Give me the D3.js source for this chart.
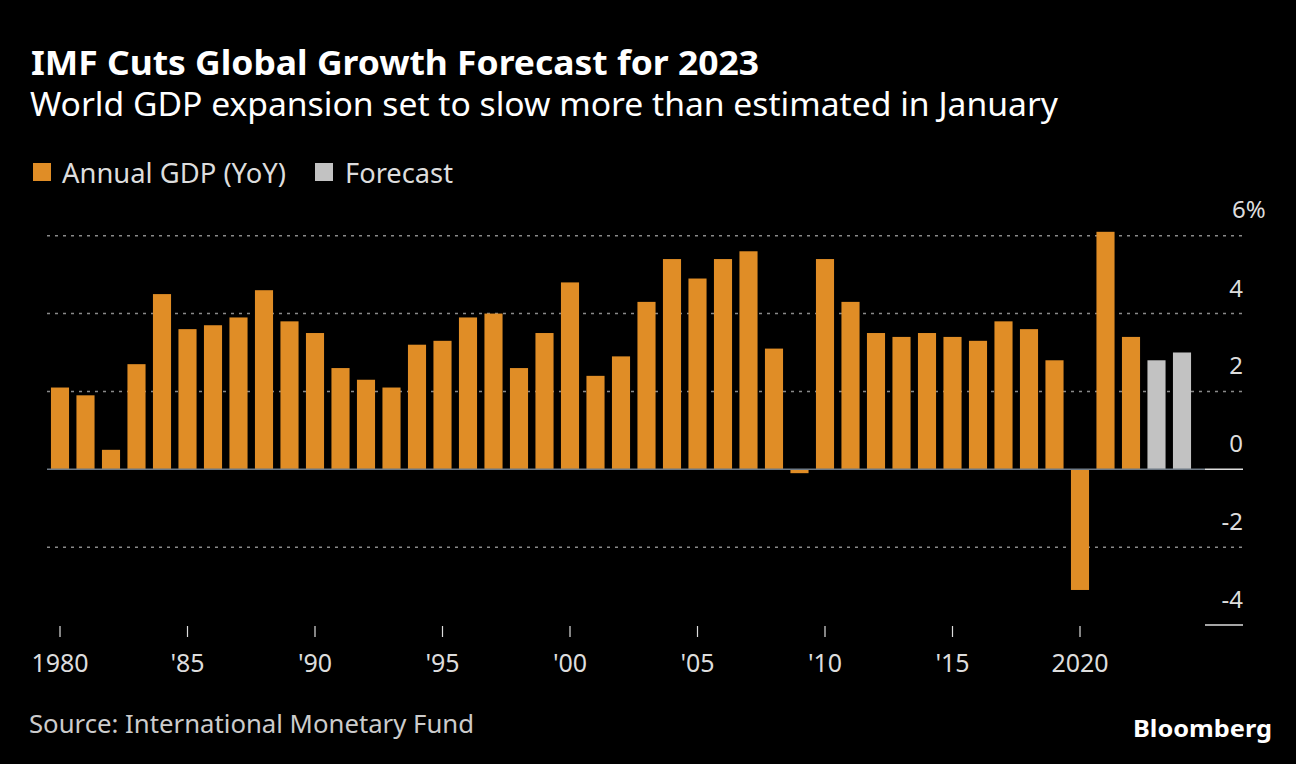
<!DOCTYPE html>
<html><head><meta charset="utf-8">
<script src="https://cdn.jsdelivr.net/npm/d3@7"></script>
<style>
html,body{margin:0;padding:0;background:#000;}
svg{display:block;font-family:"Noto Sans","Open Sans",sans-serif;}
</style></head>
<body>
<svg id="chart" width="1296" height="764"></svg>
<script>
const years = d3.range(1980, 2025);
const actualValues = [2.1,1.9,0.5,2.7,4.5,3.6,3.7,3.9,4.6,3.8,
  3.5,2.6,2.3,2.1,3.2,3.3,3.9,4.0,2.6,3.5,
  4.8,2.4,2.9,4.3,5.4,4.9,5.4,5.6,3.1,-0.1,
  5.4,4.3,3.5,3.4,3.5,3.4,3.3,3.8,3.6,2.8,
  -3.1,6.1,3.4];
const forecastValues = [2.8,3.0];
const yTicks = [-4,-2,0,2,4,6];
const xTickYears = [1980,1985,1990,1995,2000,2005,2010,2015,2020];
const xTickLabels = ["1980","'85","'90","'95","'00","'05","'10","'15","2020"];
const seriesNames = ["Annual GDP (YoY)","Forecast"];
const colors = {actual:"#E08D26", forecast:"#C2C2C2"};

const data = years.map((y,i)=>({year:y, value: i<actualValues.length ? actualValues[i] : forecastValues[i-actualValues.length], forecast: i>=actualValues.length}));

const svg = d3.select("#chart");
svg.append("rect").attr("width",1296).attr("height",764).attr("fill","#000");

const x = d3.scaleBand().domain(years).range([47.25,1194.75]).paddingInner(0.29).paddingOuter(0.145);
const y = d3.scaleLinear().domain([-4,6]).range([625,235.7]);

function fitText(sel, len){ sel.attr("textLength",len).attr("lengthAdjust","spacingAndGlyphs"); return sel; }

// title
fitText(svg.append("text").attr("x",31).attr("y",75).attr("fill","#fff").attr("font-weight",700).attr("font-size",34).text("IMF Cuts Global Growth Forecast for 2023"),728);
fitText(svg.append("text").attr("x",30).attr("y",116).attr("fill","#fff").attr("font-size",32).text("World GDP expansion set to slow more than estimated in January"),1028);

// legend
const lg = svg.append("g");
lg.append("rect").attr("x",33).attr("y",163).attr("width",18).attr("height",18).attr("fill",colors.actual);
fitText(lg.append("text").attr("x",62).attr("y",183).attr("fill","#ddd").attr("font-size",28).text(seriesNames[0]),224);
lg.append("rect").attr("x",315).attr("y",163).attr("width",18).attr("height",18).attr("fill",colors.forecast);
fitText(lg.append("text").attr("x",345).attr("y",183).attr("fill","#ddd").attr("font-size",28).text(seriesNames[1]),108);

// gridlines
const grid = svg.append("g");
yTicks.filter(t=>t!==0 && t!==-4).forEach(t=>{
  grid.append("line").attr("x1",47).attr("x2",1243).attr("y1",y(t)).attr("y2",y(t))
    .attr("stroke","#8a8a8a").attr("stroke-width",1.5).attr("stroke-dasharray","3,5");
});

// bars
svg.append("g").selectAll("rect").data(data).join("rect")
  .attr("x",d=>x(d.year)).attr("width",x.bandwidth())
  .attr("y",d=>y(Math.max(0,d.value))).attr("height",d=>Math.abs(y(d.value)-y(0)))
  .attr("fill",d=>d.forecast?colors.forecast:colors.actual);

// zero line
svg.append("line").attr("x1",47).attr("x2",1205).attr("y1",y(0)).attr("y2",y(0)).attr("stroke","#6f7a86").attr("stroke-width",1.5);
svg.append("line").attr("x1",1205).attr("x2",1243).attr("y1",y(0)).attr("y2",y(0)).attr("stroke","#ddd").attr("stroke-width",1.5);
svg.append("line").attr("x1",1205).attr("x2",1243).attr("y1",y(-4)).attr("y2",y(-4)).attr("stroke","#ddd").attr("stroke-width",1.5);

// y labels
const yl = svg.append("g");
yTicks.forEach(t=>{
  if(t===6){
    yl.append("text").attr("x",1232).attr("y",y(t)-18).attr("fill","#ddd").attr("font-size",24).text(t+"%");
  } else {
    yl.append("text").attr("x",1243).attr("y",y(t)-17).attr("text-anchor","end").attr("fill","#ddd").attr("font-size",24).text(t);
  }
});

// x axis
const xa = svg.append("g");
xTickYears.forEach((yr,i)=>{
  const cx = x(yr)+x.bandwidth()/2;
  xa.append("line").attr("x1",cx).attr("x2",cx).attr("y1",626).attr("y2",637).attr("stroke","#ddd").attr("stroke-width",1.2);
  xa.append("text").attr("x",cx).attr("y",672).attr("text-anchor","middle").attr("fill","#ddd").attr("font-size",25).text(xTickLabels[i]);
});

// footer
fitText(svg.append("text").attr("x",29).attr("y",733).attr("fill","#ccc").attr("font-size",26).text("Source: International Monetary Fund"),445);
fitText(svg.append("text").attr("x",1133).attr("y",737).attr("fill","#fff").attr("font-weight",700).attr("font-size",24).text("Bloomberg"),139);
</script>
</body></html>
